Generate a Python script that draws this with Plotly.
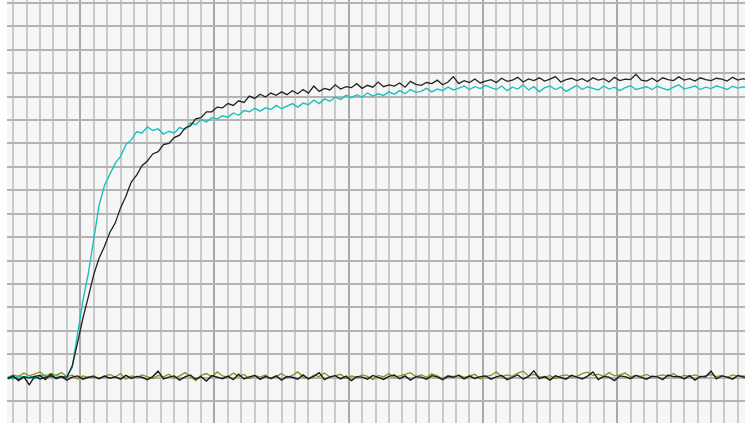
import numpy as np
import plotly.graph_objects as go

# Time step between samples (in grid divisions)
STEP = 0.4
T0 = -0.4

# Channel A (cyan) - fast rising response, divisions
cyan_vals = [
    0.05, -0.06, 0.08, 0.02, 0.10, -0.04, 0.07, 0.12, 0.03, 0.09,
    0.04, 0.06, 0.45, 1.95, 3.30, 4.45, 5.90, 7.35, 8.20, 8.65,
    9.15, 9.45, 9.95, 10.15, 10.50, 10.45, 10.70, 10.55, 10.62, 10.40,
    10.52, 10.45, 10.68, 10.60, 10.88, 10.80, 11.02, 10.92, 11.10, 11.05,
    11.18, 11.12, 11.30, 11.20, 11.40, 11.35, 11.50, 11.38, 11.52, 11.45,
    11.62, 11.48, 11.58, 11.70, 11.55, 11.72, 11.65, 11.85, 11.70, 11.90,
    11.80, 11.98, 11.88, 12.05, 11.95, 12.08, 11.98, 12.15, 12.02, 12.12,
    12.05, 12.20, 12.10, 12.25, 12.12, 12.30, 12.18, 12.22, 12.35, 12.20,
    12.32, 12.25, 12.40, 12.28, 12.36, 12.45, 12.30, 12.42, 12.34, 12.48,
    12.38, 12.30, 12.45, 12.25, 12.40, 12.32, 12.50, 12.28, 12.42, 12.20,
    12.38, 12.45, 12.30, 12.40, 12.22, 12.36, 12.48, 12.30, 12.42, 12.35,
    12.28, 12.45, 12.32, 12.40, 12.25, 12.38, 12.46, 12.30, 12.36, 12.42,
    12.30, 12.44, 12.35, 12.28, 12.40, 12.50, 12.32, 12.38, 12.45, 12.30,
    12.40, 12.34, 12.46, 12.38, 12.30, 12.44, 12.36, 12.42, 12.35, 12.40,
]

# Channel B (black) - slower rising response
black_vals = [
    -0.03, 0.05, -0.08, 0.04, 0.00, 0.06, -0.05, 0.03, 0.08, -0.02,
    0.05, 0.02, 0.50, 1.50, 2.55, 3.45, 4.40, 5.10, 5.60, 6.20,
    6.60, 7.25, 7.75, 8.35, 8.65, 9.05, 9.25, 9.55, 9.65, 9.95,
    10.00, 10.25, 10.35, 10.65, 10.75, 11.05, 11.10, 11.35, 11.35, 11.55,
    11.52, 11.70, 11.62, 11.82, 11.75, 12.02, 11.92, 12.10, 11.98, 12.15,
    12.05, 12.20, 12.08, 12.25, 12.12, 12.30, 12.15, 12.45, 12.22, 12.35,
    12.28, 12.50, 12.32, 12.42, 12.38, 12.55, 12.35, 12.48, 12.40, 12.62,
    12.42, 12.50, 12.45, 12.58, 12.40, 12.65, 12.52, 12.48, 12.60, 12.55,
    12.70, 12.50, 12.62, 12.85, 12.55, 12.68, 12.60, 12.75, 12.58, 12.66,
    12.72, 12.60, 12.78, 12.65, 12.70, 12.82, 12.62, 12.75, 12.68, 12.80,
    12.66, 12.74, 12.85, 12.62, 12.72, 12.78, 12.68, 12.76, 12.64, 12.80,
    12.70, 12.76, 12.62, 12.82, 12.68, 12.74, 12.72, 12.95, 12.70, 12.66,
    12.78, 12.64, 12.80, 12.72, 12.68, 12.84, 12.70, 12.76, 12.66, 12.80,
    12.72, 12.68, 12.78, 12.74, 12.66, 12.82, 12.70, 12.76, 12.72, 12.68,
]

# Channel C (black) - baseline
base_black_vals = [
    -0.05, 0.08, -0.12, 0.04, -0.30, 0.06, 0.10, -0.08, 0.15, -0.04,
    0.06, -0.10, 0.03, 0.08, -0.06, 0.02, 0.05, -0.04, 0.07, -0.02,
    0.04, -0.06, 0.10, -0.03, 0.06, 0.02, -0.08, 0.05, 0.28, -0.05,
    0.03, 0.08, -0.10, 0.04, 0.12, -0.06, 0.05, -0.14, 0.09, 0.02,
    -0.04, 0.07, -0.08, 0.15, -0.05, 0.04, 0.10, -0.07, 0.06, -0.03,
    0.08, -0.10, 0.05, 0.02, -0.06, 0.12, -0.04, 0.06, 0.22, -0.08,
    0.04, 0.09, -0.05, 0.07, -0.12, 0.05, 0.03, -0.06, 0.10, 0.02,
    -0.07, 0.06, 0.12, -0.04, 0.08, -0.10, 0.05, 0.03, -0.06, 0.09,
    0.04, -0.08, 0.06, 0.02, 0.10, -0.05, 0.07, -0.03, 0.05, 0.08,
    -0.06, 0.04, 0.10, -0.08, 0.03, 0.12, -0.05, 0.06, 0.30, -0.04,
    0.05, -0.10, 0.08, 0.02, -0.06, 0.11, 0.04, -0.05, 0.07, 0.25,
    -0.08, 0.06, 0.03, -0.12, 0.08, 0.05, -0.04, 0.10, 0.02, -0.06,
    0.07, 0.04, -0.08, 0.12, 0.05, 0.06, -0.05, 0.09, -0.10, 0.06,
    0.04, 0.28, -0.05, 0.08, 0.03, -0.06, 0.10, 0.04, -0.04, 0.06,
]

# Channel D (olive) - baseline
base_olive_vals = [
    0.02, 0.12, 0.06, 0.20, 0.08, 0.15, 0.25, 0.05, 0.18, 0.10,
    0.22, 0.04, 0.12, -0.05, 0.08, 0.02, 0.10, -0.04, 0.06, 0.14,
    0.03, 0.18, -0.06, 0.08, 0.02, 0.12, 0.05, -0.03, 0.10, 0.04,
    0.15, -0.02, 0.08, 0.22, 0.05, -0.12, 0.10, 0.18, 0.04, 0.25,
    0.08, 0.02, 0.20, 0.06, 0.14, -0.04, 0.10, 0.03, 0.12, -0.05,
    0.06, 0.18, 0.02, 0.10, 0.25, 0.04, -0.06, 0.12, 0.05, 0.20,
    0.03, 0.10, 0.15, -0.04, 0.08, 0.02, 0.12, 0.06, -0.08, 0.10,
    0.04, 0.18, 0.02, 0.08, 0.14, 0.22, 0.05, 0.12, 0.03, 0.16,
    0.08, -0.03, 0.10, 0.05, 0.12, 0.02, 0.08, 0.15, -0.05, 0.06,
    0.10, 0.25, 0.04, 0.12, 0.06, 0.20, 0.28, 0.08, 0.14, 0.05,
    0.02, 0.10, -0.04, 0.08, 0.12, 0.04, 0.06, 0.18, 0.24, 0.10,
    0.15, 0.05, 0.22, 0.08, 0.12, 0.20, 0.04, 0.10, 0.06, 0.14,
    0.03, 0.08, 0.12, 0.05, 0.18, 0.02, 0.10, 0.06, 0.12, 0.04,
    0.08, 0.14, 0.05, 0.10, 0.02, 0.12, 0.06, 0.08, 0.04, 0.10,
]


def times(vals):
    return T0 + STEP * np.arange(len(vals))


fig = go.Figure()
fig.add_trace(go.Scatter(x=times(base_olive_vals), y=base_olive_vals, mode="lines",
                         line=dict(color="#8f8f1c", width=1.3), name="D"))
fig.add_trace(go.Scatter(x=times(cyan_vals), y=cyan_vals, mode="lines",
                         line=dict(color="#1cc0c0", width=1.4), name="A"))
fig.add_trace(go.Scatter(x=times(base_black_vals), y=base_black_vals, mode="lines",
                         line=dict(color="#1a1a1a", width=1.4), name="C"))
fig.add_trace(go.Scatter(x=times(black_vals), y=black_vals, mode="lines",
                         line=dict(color="#222222", width=1.3), name="B"))

fig.update_layout(
    width=745, height=423,
    margin=dict(l=7, r=0, t=0, b=0),
    paper_bgcolor="white",
    plot_bgcolor="#f6f6f6",
    showlegend=False,
)
fig.update_xaxes(
    range=[-0.46, 54.53],
    tick0=5, dtick=10,
    showgrid=True, gridcolor="#a9a9a9", gridwidth=2,
    minor=dict(tick0=0, dtick=1, showgrid=True, gridcolor="#cacaca", gridwidth=1.6),
    showticklabels=False, ticks="", zeroline=False,
)
fig.update_yaxes(
    range=[-1.93, 16.12],
    tick0=0, dtick=1,
    showgrid=True, gridcolor="#b3b3b3", gridwidth=2,
    showticklabels=False, ticks="", zeroline=False,
)

fig.write_html(
    "out.html",
    config={"displayModeBar": False},
    post_script="document.body.style.margin='0';document.body.style.overflow='hidden';",
)
